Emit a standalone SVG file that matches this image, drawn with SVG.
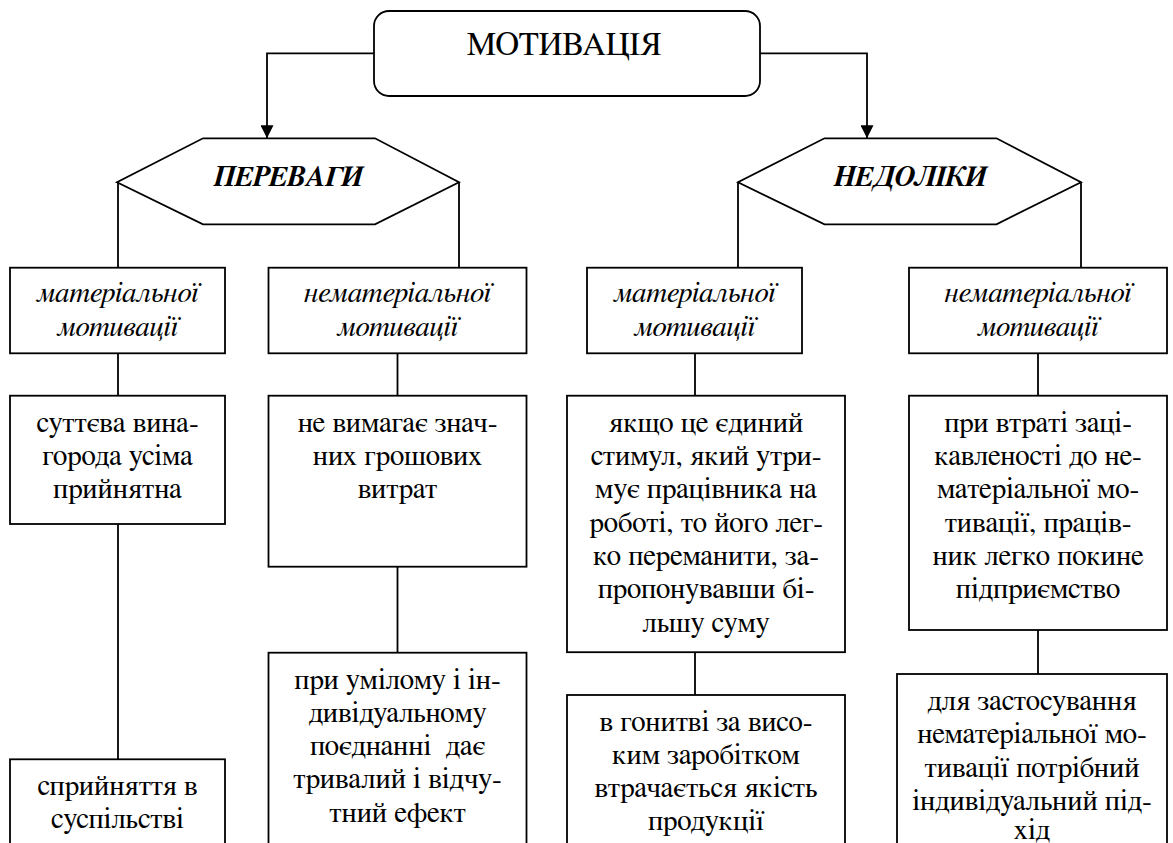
<svg xmlns="http://www.w3.org/2000/svg" width="1173" height="843" viewBox="0 0 1173 843">
<defs>
<style>
.box{fill:#fff;stroke:#000;stroke-width:1.8}
.ln{fill:none;stroke:#000;stroke-width:1.8}
.t{font-family:FreeSerif,'Liberation Serif','DejaVu Serif',serif;font-size:29px;text-anchor:middle;fill:#000}
.i{font-style:italic}
.h{font-family:FreeSerif,'Liberation Serif','DejaVu Serif',serif;font-size:29px;font-weight:bold;font-style:italic;text-anchor:middle;fill:#000}
.title{font-size:33px}
</style>
<marker id="arr" viewBox="0 0 13 13" markerWidth="13" markerHeight="13" refX="13" refY="6.5" orient="auto" markerUnits="userSpaceOnUse">
<path d="M0,0 L13,6.5 L0,13 z" fill="#000"/>
</marker>
</defs>
<rect width="1173" height="843" fill="#fff"/>

<g id="connectors">
<path class="ln" d="M374,53.3 H267 V138.3" marker-end="url(#arr)"/>
<path class="ln" d="M760,53.3 H867 V138.3" marker-end="url(#arr)"/>
<path class="ln" d="M118,182.3 V267.7 M118,353.3 V395.7 M118,524 V759.3"/>
<path class="ln" d="M459,182.3 V267.7 M397.5,353.3 V395.7 M397.5,566.7 V652.7"/>
<path class="ln" d="M738,182.3 V267.7 M695,353.3 V395.7 M695,652.2 V695"/>
<path class="ln" d="M1081,182.3 V267.7 M1038,353.3 V395.7 M1038,630 V674"/>
</g>

<g id="motivation">
<rect class="box" x="374" y="11" width="386" height="85" rx="15"/>
<text class="t title" x="564" y="55">МОТИВАЦІЯ</text>
</g>

<g id="advantages">
<polygon class="box" points="203,138.3 375,138.3 459,182.3 375,224.3 203,224.3 117,182.3"/>
<text class="h" x="288" y="186">ПЕРЕВАГИ</text>
</g>

<g id="disadvantages">
<polygon class="box" points="824.5,138.3 996.5,138.3 1081,182.3 996.5,224.3 824.5,224.3 738,182.3"/>
<text class="h" x="910" y="186">НЕДОЛІКИ</text>
</g>

<g id="adv-material">
<rect class="box" x="10" y="267.7" width="215" height="85.6"/>
<text class="t i"><tspan x="117.5" y="302">матеріальної</tspan><tspan x="117.5" y="335.5">мотивації</tspan></text>
</g>

<g id="adv-nonmaterial">
<rect class="box" x="268.5" y="267.7" width="258" height="85.6"/>
<text class="t i"><tspan x="397.5" y="302">нематеріальної</tspan><tspan x="397.5" y="335.5">мотивації</tspan></text>
</g>

<g id="dis-material">
<rect class="box" x="587" y="267.7" width="215" height="85.6"/>
<text class="t i"><tspan x="694.5" y="302">матеріальної</tspan><tspan x="694.5" y="335.5">мотивації</tspan></text>
</g>

<g id="dis-nonmaterial">
<rect class="box" x="909" y="267.7" width="258" height="85.6"/>
<text class="t i"><tspan x="1038" y="302">нематеріальної</tspan><tspan x="1038" y="335.5">мотивації</tspan></text>
</g>

<g id="adv-material-1">
<rect class="box" x="10" y="395.7" width="215" height="128.3"/>
<text class="t"><tspan x="117.5" y="431.7">суттєва вина-</tspan><tspan x="117.5" y="465">города усіма</tspan><tspan x="117.5" y="498.3">прийнятна</tspan></text>
</g>

<g id="adv-material-2">
<rect class="box" x="10" y="759.3" width="215" height="100"/>
<text class="t"><tspan x="117.5" y="795">сприйняття в</tspan><tspan x="117.5" y="828.3">суспільстві</tspan></text>
</g>

<g id="adv-nonmaterial-1">
<rect class="box" x="268.5" y="395.7" width="258" height="171"/>
<text class="t"><tspan x="397.5" y="431.7">не вимагає знач-</tspan><tspan x="397.5" y="465">них грошових</tspan><tspan x="397.5" y="498.3">витрат</tspan></text>
</g>

<g id="adv-nonmaterial-2">
<rect class="box" x="268.5" y="652.7" width="258" height="200"/>
<text class="t"><tspan x="397.5" y="688.5">при умілому і ін-</tspan><tspan x="397.5" y="721.8">дивідуальному</tspan></text>
<text class="t" x="397.5" y="755.1" xml:space="preserve">поєднанні  дає</text>
<text class="t"><tspan x="397.5" y="788.4">тривалий і відчу-</tspan><tspan x="397.5" y="821.7">тний ефект</tspan></text>
</g>

<g id="dis-material-1">
<rect class="box" x="567" y="395.7" width="278" height="256.5"/>
<text class="t"><tspan x="706" y="431.7">якщо це єдиний</tspan><tspan x="706" y="465">стимул, який утри-</tspan><tspan x="706" y="498.3">мує працівника на</tspan><tspan x="706" y="531.6">роботі, то його лег-</tspan><tspan x="706" y="564.9">ко переманити, за-</tspan><tspan x="706" y="598.2">пропонувавши бі-</tspan><tspan x="706" y="631.5">льшу суму</tspan></text>
</g>

<g id="dis-material-2">
<rect class="box" x="567" y="695" width="278" height="160"/>
<text class="t"><tspan x="706" y="730.5">в гонитві за висо-</tspan><tspan x="706" y="763.8">ким заробітком</tspan><tspan x="706" y="797.1">втрачається якість</tspan><tspan x="706" y="830.4">продукції</tspan></text>
</g>

<g id="dis-nonmaterial-1">
<rect class="box" x="909" y="395.7" width="258" height="234.3"/>
<text class="t"><tspan x="1038" y="431.7">при втраті заці-</tspan><tspan x="1038" y="465">кавленості до не-</tspan><tspan x="1038" y="498.3">матеріальної мо-</tspan><tspan x="1038" y="531.6">тивації, праців-</tspan><tspan x="1038" y="564.9">ник легко покине</tspan><tspan x="1038" y="598.2">підприємство</tspan></text>
</g>

<g id="dis-nonmaterial-2">
<rect class="box" x="897" y="674" width="270" height="180"/>
<text class="t"><tspan x="1032" y="710">для застосування</tspan><tspan x="1032" y="743.3">нематеріальної мо-</tspan><tspan x="1032" y="776.6">тивації потрібний</tspan><tspan x="1032" y="809.9">індивідуальний під-</tspan><tspan x="1032" y="839">хід</tspan></text>
</g>
</svg>
